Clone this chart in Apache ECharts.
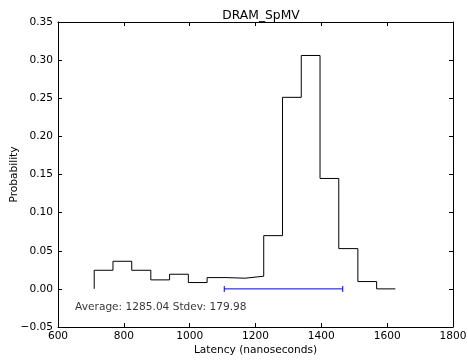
<!DOCTYPE html>
<html>
<head>
<meta charset="utf-8">
<script src="https://cdn.jsdelivr.net/npm/echarts@6/dist/echarts.min.js"></script>
<style>
  html, body { margin: 0; padding: 0; background: #fff; }
  #chart { width: 468px; height: 360px; }
</style>
</head>
<body>
<div id="chart"></div>
<script>
// bin edges (ns) and probability per bin
var binEdges = [710, 767, 824, 882, 939, 996, 1053, 1110, 1168, 1225, 1282, 1339, 1396, 1453, 1511, 1568, 1625];
var binProb = [0.0244, 0.0362, 0.0244, 0.0118, 0.0192, 0.0083, 0.0148, 0.0140, 0.0166, 0.0698, 0.2512, 0.3061, 0.1448, 0.0528, 0.0096, 0.0];
var average = 1285.04;
var stdev = 179.98;
var xTicks = [600, 800, 1000, 1200, 1400, 1600, 1800];
var yTicks = [-0.05, 0.00, 0.05, 0.10, 0.15, 0.20, 0.25, 0.30, 0.35];

var font = 'DejaVu Sans';
var fs = 10.6;

// histogram outline as step line: start at 0, then one point per bin, close on last edge
var stepData = [[binEdges[0], 0]];
for (var i = 0; i < binProb.length; i++) {
  stepData.push([binEdges[i], binProb[i]]);
}
stepData.push([binEdges[binEdges.length - 1], binProb[binProb.length - 1]]);

var errData = [[average - stdev, 0], [average + stdev, 0]];

function minus(v) { return String(v).replace('-', '\u2212'); }

var myChart = echarts.init(document.getElementById('chart'));

var axisBase = {
  axisLine: { show: true, onZero: false, lineStyle: { color: '#000', width: 1 } },
  axisTick: { show: true, inside: true, length: 4, lineStyle: { color: '#000' } },
  splitLine: { show: false },
  nameMoveOverlap: false
};

var option = {
  animation: false,
  backgroundColor: '#fff',
  title: {
    text: 'DRAM_SpMV',
    left: 256, top: 5, textAlign: 'center',
    textStyle: { fontFamily: font, fontSize: 12.3, fontWeight: 'normal', color: '#000' }
  },
  grid: { left: 58, right: 15, top: 22, bottom: 33, containLabel: false, outerBoundsMode: 'none' },
  xAxis: [
    Object.assign({}, axisBase, {
      type: 'value', min: 600, max: 1800, interval: 200, position: 'bottom',
      name: 'Latency (nanoseconds)', nameLocation: 'middle', nameGap: 18,
      nameTextStyle: { fontFamily: font, fontSize: fs, color: '#000' },
      axisLabel: { fontFamily: font, fontSize: fs, color: '#000', margin: 4,
        formatter: function (v) { return xTicks.indexOf(v) >= 0 ? String(v) : ''; } }
    }),
    Object.assign({}, axisBase, {
      type: 'value', min: 600, max: 1800, interval: 200, position: 'top',
      axisLabel: { show: false }
    })
  ],
  yAxis: [
    Object.assign({}, axisBase, {
      type: 'value', min: -0.05, max: 0.35, interval: 0.05, position: 'left',
      name: 'Probability', nameLocation: 'middle', nameGap: 38,
      nameTextStyle: { fontFamily: font, fontSize: fs, color: '#000' },
      axisLabel: { fontFamily: font, fontSize: fs, color: '#000', margin: 5,
        formatter: function (v) {
          var t = yTicks.filter(function (k) { return Math.abs(k - v) < 1e-9; });
          return t.length ? minus(t[0].toFixed(2)) : '';
        } }
    }),
    Object.assign({}, axisBase, {
      type: 'value', min: -0.05, max: 0.35, interval: 0.05, position: 'right',
      axisLabel: { show: false }
    })
  ],
  series: [
    {
      type: 'line', step: 'end', data: stepData,
      symbol: 'none', lineStyle: { color: '#000', width: 1 }
    },
    {
      type: 'line', data: errData,
      symbol: 'rect', symbolSize: [1, 6],
      itemStyle: { color: '#0000ff' },
      lineStyle: { color: '#0000ff', width: 1 }
    },
    {
      type: 'scatter', data: [[652, -0.024]], symbolSize: 0,
      label: {
        show: true, position: 'right', distance: 0,
        fontFamily: font, fontSize: fs, color: '#000',
        formatter: 'Average: ' + average.toFixed(2) + ' Stdev: ' + stdev.toFixed(2)
      }
    }
  ]
};

myChart.setOption(option);
</script>
</body>
</html>
